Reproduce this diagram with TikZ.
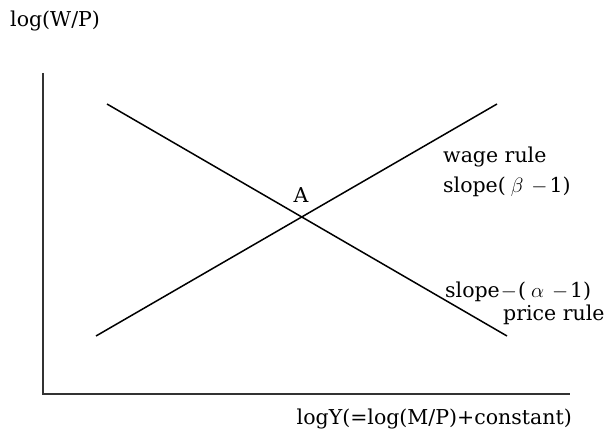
\documentclass[tikz,border=0pt]{standalone}
\usepackage{fontspec}
\setmainfont{DejaVu Serif}
\begin{document}
\begin{tikzpicture}[x=1pt,y=-1pt,
  axis/.style={line width=1.5pt,draw=black!80},
  curve/.style={line width=1.5pt},
  lbl/.style={font=\fontsize{20.5}{23}\selectfont,inner sep=0pt}]
\useasboundingbox (0,0) rectangle (611,433);
\coordinate (o) at (43,394);
\coordinate (ytop) at (43,73);
\coordinate (xend) at (570,394);
\draw[axis] (ytop) -- (o) -- (xend);
\coordinate (w1) at (96,336);
\coordinate (w2) at (497,104);
\coordinate (p1) at (107,104);
\coordinate (p2) at (507,336);
\draw[curve] (w1) -- (w2);
\draw[curve] (p1) -- (p2);
\node[lbl,anchor=west] (ylab) at (10,21) {log(W/P)};
\node[lbl] (A) at (301,195) {A};
\node[lbl,anchor=west] (wr) at (443,157) {wage rule};
\node[lbl,anchor=west] (ws) at (443,187) {slope(\hspace{5pt}$\beta$\hspace{8pt}$-$\hspace{2pt}1)};
\node[lbl,anchor=west] (ps) at (445,292) {slope\hspace{1pt}$-$\hspace{1pt}(\hspace{5pt}$\alpha$\hspace{8pt}$-$\hspace{2pt}1)};
\node[lbl,anchor=west] (pr) at (503,315) {price rule};
\node[lbl,anchor=east] (xlab) at (572,419) {logY(=log(M/P)+constant)};
\end{tikzpicture}
\end{document}
